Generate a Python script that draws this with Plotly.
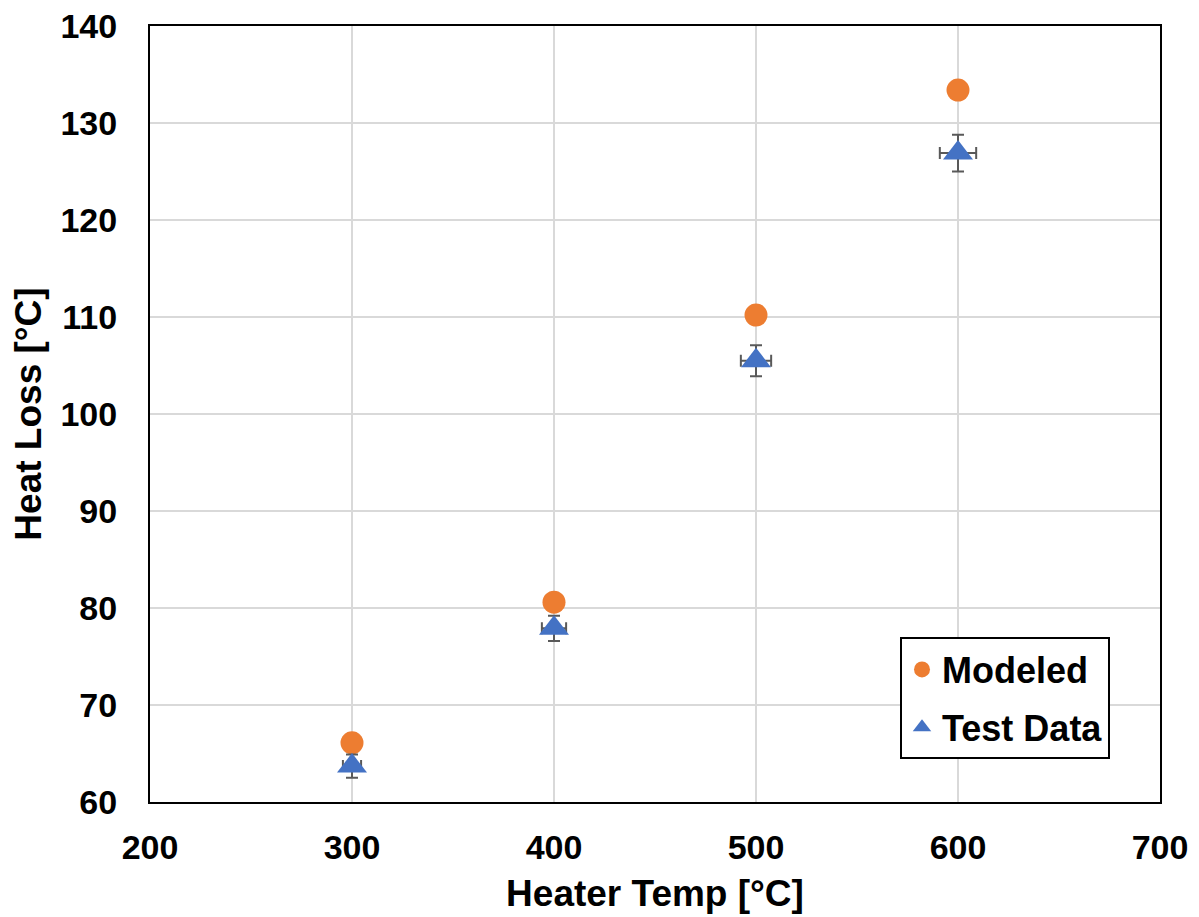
import plotly.graph_objects as go

heater_temp = [300, 400, 500, 600]
modeled = [66.1, 80.6, 110.2, 133.4]
test_data = [63.7, 77.9, 105.5, 126.9]
test_err_y = [1.2, 1.3, 1.6, 1.9]
test_err_x = [4.5, 6.0, 7.5, 9.0]

fig = go.Figure()
fig.add_trace(go.Scatter(
    x=heater_temp, y=modeled, mode="markers", name="Modeled", legendgroup="a",
    marker=dict(symbol="circle", size=23, color="#ED7D31"),
))
fig.add_trace(go.Scatter(
    x=heater_temp, y=test_data, mode="markers", name="Test Data", legendgroup="b",
    marker=dict(symbol="triangle-up", size=26, color="#4472C4"),
    error_y=dict(type="data", array=test_err_y, color="#595959", thickness=2, width=6),
    error_x=dict(type="data", array=test_err_x, color="#595959", thickness=2, width=6),
))

font_family = "Liberation Sans, Arial, sans-serif"
fig.update_layout(
    width=1191, height=909,
    margin=dict(l=142, r=39, t=18, b=115, autoexpand=False),
    paper_bgcolor="white", plot_bgcolor="white",
    font=dict(family=font_family, color="black", size=34),
    xaxis=dict(
        range=[200, 700], dtick=100, showgrid=True, gridcolor="#D9D9D9", gridwidth=2,
        showline=True, linecolor="black", linewidth=2, mirror=True, zeroline=False,
        ticks="", ticklabelstandoff=14, ticklabeloverflow="allow", automargin=False,
        tickfont=dict(size=34, family=font_family, weight="bold"),
        title=dict(text="<b>Heater Temp [°C]</b>", font=dict(size=37), standoff=15),
    ),
    yaxis=dict(
        range=[60, 140], dtick=10, tick0=60, showgrid=True, gridcolor="#D9D9D9", gridwidth=2,
        showline=True, linecolor="black", linewidth=2, mirror=True, zeroline=False,
        ticks="", ticklabelstandoff=24, ticklabeloverflow="allow", automargin=False,
        tickfont=dict(size=34, family=font_family, weight="bold"),
        title=dict(text="<b>Heat Loss [°C]</b>", font=dict(size=37), standoff=10),
    ),
    legend=dict(
        x=0.9505, y=0.212, xanchor="right", yanchor="top",
        bordercolor="black", borderwidth=2, bgcolor="white",
        font=dict(size=36, family=font_family, weight="bold"),
        itemsizing="trace", traceorder="grouped", tracegroupgap=8,
    ),
    showlegend=True,
)

fig.write_html("out.html")
